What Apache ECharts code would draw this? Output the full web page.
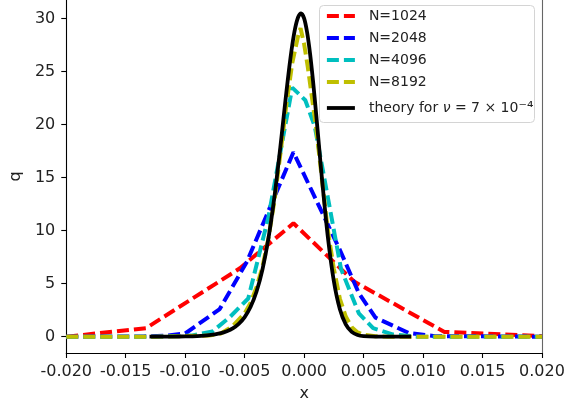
<!DOCTYPE html>
<html><head><meta charset="utf-8">
<script src="https://cdn.jsdelivr.net/npm/echarts@6.0.0/dist/echarts.min.js"></script>
<style>html,body{margin:0;padding:0;background:#fff}#c{width:578px;height:407px}</style>
</head><body><div id="c"></div>
<script>
// ---- data ----
const xTicks = [-0.02, -0.015, -0.01, -0.005, 0, 0.005, 0.01, 0.015, 0.02];
const yTicks = [0, 5, 10, 15, 20, 25, 30];

const seriesNames = ['N=1024', 'N=2048', 'N=4096', 'N=8192'];
const theoryLabel = 'theory';

const n1024X = [-0.02, -0.0133, -0.0054, -0.0009, 0.0042, 0.0118, 0.02];
const n1024Q = [0.0, 0.8, 6.45, 10.7, 5.2, 0.45, 0.05];

const n2048X = [-0.02, -0.0135, -0.0115, -0.0100, -0.0071, -0.0048, -0.0009, 0.0030, 0.0046, 0.0060, 0.0088, 0.0110, 0.02];
const n2048Q = [0.0, 0.02, 0.1, 0.3, 2.6, 7.1, 17.4, 8.2, 4.1, 1.8, 0.35, 0.05, 0.0];

const n4096X = [-0.02, -0.0125, -0.0095, -0.0077, -0.0062, -0.0047, -0.0030, -0.0010, 0.0001, 0.0009, 0.0031, 0.0046, 0.0058, 0.0075, 0.0095, 0.02];
const n4096Q = [0.0, 0.0, 0.1, 0.5, 1.9, 3.6, 11.3, 23.5, 22.3, 19.8, 6.4, 2.2, 0.8, 0.2, 0.0, 0.0];

const n8192X = [-0.02, -0.0125, -0.008, -0.007, -0.006, -0.005, -0.0045, -0.004, -0.0035, -0.003, -0.0025, -0.002, -0.0015, -0.001, -0.0005, -0.0003, 0.0, 0.0003, 0.0008, 0.001, 0.0015, 0.002, 0.0025, 0.003, 0.0035, 0.004, 0.0045, 0.005, 0.006, 0.007, 0.02];
const n8192Q = [0.0, 0.0, 0.1, 0.3, 1.0, 2.2, 3.2, 4.7, 6.6, 9.3, 12.8, 17.2, 21.8, 25.8, 28.4, 29.1, 27.6, 25.5, 21.4, 19.8, 14.8, 10.0, 6.4, 3.6, 1.9, 0.9, 0.4, 0.18, 0.04, 0.0, 0.0];

const theoryX = [-0.013, -0.011, -0.010, -0.009, -0.008, -0.007, -0.0065, -0.006, -0.0055, -0.005, -0.0045, -0.004, -0.0035, -0.003, -0.0025, -0.002, -0.00175, -0.0015, -0.00125, -0.001, -0.00075, -0.0005, -0.00026, 0.0, 0.00025, 0.0005, 0.00075, 0.001, 0.00125, 0.0015, 0.002, 0.0025, 0.003, 0.0035, 0.004, 0.0045, 0.005, 0.006, 0.007, 0.009];
const theoryQ = [0.002, 0.01, 0.024, 0.057, 0.137, 0.33, 0.51, 0.78, 1.21, 1.85, 2.82, 4.26, 6.35, 9.28, 13.17, 17.88, 20.45, 22.99, 25.40, 27.50, 29.13, 30.16, 30.5, 30.03, 28.72, 26.69, 24.09, 21.13, 18.00, 14.90, 9.35, 5.23, 2.61, 1.16, 0.46, 0.16, 0.05, 0.004, 0.0, 0.0];

// ---- build chart ----
const pairs = (xs, ys) => xs.map((x, i) => [x, ys[i]]);
const FONT = 'DejaVu Sans';

function dashed(name, xs, ys, color) {
  return {
    name: name, type: 'line', data: pairs(xs, ys), symbol: 'none', showSymbol: false,
    lineStyle: { color: color, width: 4, type: [12, 5] }, itemStyle: { color: color },
    animation: false
  };
}

const legendBase = {
  orient: 'vertical', left: 325,
  itemWidth: 28, itemHeight: 14, itemGap: 8, padding: 0,
  itemStyle: { opacity: 0 },
  lineStyle: { width: 3.8 },
  z: 5,
  textStyle: { fontSize: 14, color: '#222', fontFamily: FONT, padding: [0, 0, 0, 9],
    rich: {
      a: { fontSize: 14, color: '#222', fontFamily: FONT },
      i: { fontSize: 14, color: '#222', fontFamily: FONT, fontStyle: 'italic' },
      s: { fontSize: 16, color: '#222', fontFamily: FONT }
    }
  }
};

const chart = echarts.init(document.getElementById('c'), null, { renderer: 'canvas' });
chart.setOption({
  animation: false,
  backgroundColor: '#fff',
  textStyle: { fontFamily: FONT },
  grid: { left: 66, right: 36, top: 0, bottom: 54, containLabel: false },
  graphic: [{
    type: 'rect', z: 4, silent: true,
    shape: { x: 319.5, y: 5.5, width: 215, height: 117, r: 4 },
    style: { fill: 'rgba(255,255,255,0.85)', stroke: '#d4d4d4', lineWidth: 1 }
  }],
  xAxis: {
    type: 'value', min: -0.02, max: 0.02,
    name: 'x', nameLocation: 'middle', nameGap: 33,
    nameTextStyle: { fontSize: 16, color: '#222', fontFamily: FONT },
    axisLine: { show: true, onZero: false, lineStyle: { color: '#000', width: 1.1 } },
    axisTick: { show: true, length: 5, customValues: xTicks, lineStyle: { color: '#000', width: 1.1 } },
    axisLabel: { customValues: xTicks, fontSize: 16, color: '#222', margin: 11, fontFamily: FONT,
      formatter: v => (Math.abs(v) < 1e-9 ? '0.000' : v.toFixed(3)) },
    splitLine: { show: false }
  },
  yAxis: [{
    type: 'value', min: -1.54, max: 31.76,
    name: 'q', nameLocation: 'middle', nameGap: 31, nameRotate: 90,
    nameTextStyle: { fontSize: 16, color: '#222', fontFamily: FONT },
    axisLine: { show: true, onZero: false, lineStyle: { color: '#000', width: 1.1 } },
    axisTick: { show: true, length: 5, customValues: yTicks, lineStyle: { color: '#000', width: 1.1 } },
    axisLabel: { customValues: yTicks, fontSize: 16, color: '#222', margin: 11, fontFamily: FONT },
    splitLine: { show: false }
  }, {
    type: 'value', min: -1.54, max: 31.76, position: 'right',
    axisLine: { show: true, onZero: false, lineStyle: { color: '#666', width: 1.1 } },
    axisTick: { show: false }, axisLabel: { show: false }, splitLine: { show: false }
  }],
  legend: [
    Object.assign({}, legendBase, { top: 9, data: seriesNames }),
    Object.assign({}, legendBase, { top: 100, data: [theoryLabel],
      formatter: () => '{a|theory for }{i|ν}{a| = 7 × 10}{s|⁻⁴}' })
  ],
  series: [
    dashed('N=1024', n1024X, n1024Q, '#ff0000'),
    dashed('N=2048', n2048X, n2048Q, '#0000ff'),
    dashed('N=4096', n4096X, n4096Q, '#00bfbf'),
    dashed('N=8192', n8192X, n8192Q, '#bfbf00'),
    {
      name: theoryLabel, type: 'line', data: pairs(theoryX, theoryQ), symbol: 'none', showSymbol: false,
      smooth: 0.3, lineStyle: { color: '#000', width: 3.8, type: 'solid' }, itemStyle: { color: '#000' },
      animation: false
    }
  ]
});
</script>
</body></html>
